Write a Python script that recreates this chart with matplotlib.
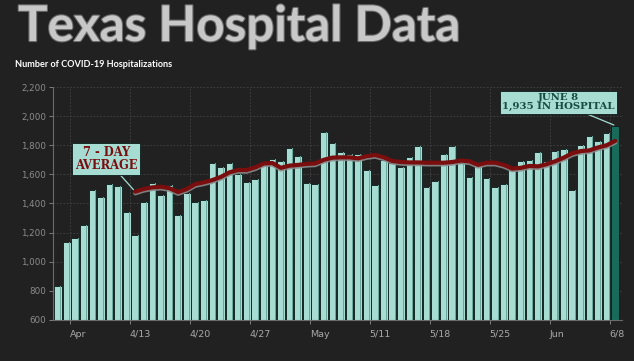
import numpy as np
import pandas as pd
import matplotlib
matplotlib.use("Agg")
import matplotlib.pyplot as plt
import matplotlib.patheffects as pe

# daily hospitalizations, 4/4 .. 6/8
START_DATE = "2020-04-04"
END_DATE = "2020-06-08"
HOSPITALIZED = [830, 1135, 1160, 1254, 1496, 1444, 1535, 1520, 1343, 1181,
                1412, 1540, 1460, 1529, 1324, 1472, 1412, 1424, 1681, 1652,
                1675, 1601, 1546, 1567, 1685, 1705, 1692, 1779, 1727, 1542,
                1533, 1890, 1817, 1753, 1741, 1737, 1630, 1525, 1698, 1675,
                1649, 1718, 1794, 1512, 1553, 1739, 1794, 1675, 1579, 1678,
                1572, 1513, 1533, 1632, 1691, 1698, 1755, 1691, 1760, 1774,
                1492, 1801, 1863, 1829, 1881, 1935]

# 7 day average, starts 4/13
AVG_START = "2020-04-13"
AVG_7DAY = [1481, 1500, 1511, 1515, 1505, 1478, 1499, 1533, 1545, 1561,
            1583, 1614, 1630, 1630, 1648, 1675, 1678, 1645, 1660, 1665,
            1672, 1675, 1700, 1715, 1717, 1717, 1710, 1725, 1733, 1717,
            1692, 1685, 1682, 1682, 1680, 1680, 1680, 1685, 1695, 1690,
            1665, 1680, 1680, 1665, 1640, 1645, 1658, 1655, 1670, 1690,
            1715, 1745, 1760, 1765, 1785, 1800, 1830]

TICK_DATES = ["2020-04-06", "2020-04-13", "2020-04-20", "2020-04-27", "2020-05-04",
              "2020-05-11", "2020-05-18", "2020-05-25", "2020-06-01", "2020-06-08"]
TICK_LABELS = ["Apr", "4/13", "4/20", "4/27", "May", "5/11", "5/18", "5/25", "Jun", "6/8"]
Y_TICKS = [600, 800, 1000, 1200, 1400, 1600, 1800, 2000, 2200]

BG = "#212121"
BAR = "#a6dcd2"
BAR_LAST = "#186a5a"
RED = "#7a0d0d"

dates = pd.date_range(START_DATE, END_DATE)
x = np.arange(len(dates))
day0 = dates[0]

def day_idx(d):
    return (pd.Timestamp(d) - day0).days

fig = plt.figure(figsize=(6.34, 3.61), dpi=100, facecolor=BG)
ax = fig.add_axes([0.0836, 0.1136, 0.8975, 0.6454], facecolor=BG)

colors = [BAR] * (len(x) - 1) + [BAR_LAST]
ax.bar(x, HOSPITALIZED, width=0.9, color=colors, edgecolor="#0c1c1a", linewidth=0.6, zorder=2)
# darker stripe on the right of each bar
ax.bar(x[:-1] + 0.33, np.array(HOSPITALIZED[:-1]) - 600, bottom=600, width=0.12,
       color="#6aa89e", linewidth=0, zorder=2.5)

# 7 day average line
ax_x = np.arange(len(AVG_7DAY)) + day_idx(AVG_START)
ax.plot(ax_x, AVG_7DAY, color=RED, linewidth=3.0, solid_capstyle="round", zorder=4,
        path_effects=[pe.SimpleLineShadow(offset=(0, -1.2), shadow_color="#8a8a8a", alpha=0.9, rho=1),
                      pe.Normal()])

ax.set_ylim(600, 2200)
ax.set_xlim(-0.6, 65.8)
ax.set_yticks(Y_TICKS)
ax.set_yticklabels(["{:,}".format(v) for v in Y_TICKS])
tick_pos = [day_idx(d) - 0.65 for d in TICK_DATES]
ax.set_xticks(tick_pos)
ax.set_xticklabels(TICK_LABELS, ha="left")

ax.tick_params(axis="y", colors="#8c8c8c", labelsize=6.3, length=3, width=0.6, pad=2)
ax.tick_params(axis="x", colors="#8c8c8c", labelsize=6.8, length=3, width=0.6, pad=4)
for lbl in ax.get_xticklabels():
    lbl.set_color("#a8a8a8")
for lbl in ax.get_yticklabels():
    lbl.set_color("#8c8c8c")

ax.grid(True, color="#444444", linestyle=(0, (2, 2)), linewidth=0.6, zorder=0)
ax.set_axisbelow(True)
for s in ["top", "right"]:
    ax.spines[s].set_visible(False)
ax.spines["left"].set_color("#6a6a6a")
ax.spines["bottom"].set_color("#6a6a6a")
ax.spines["left"].set_linewidth(0.8)
ax.spines["bottom"].set_linewidth(0.8)

# title + subtitle
fig.text(18 / 634, 1 - 41 / 361, "Texas Hospital Data", fontsize=35.5, family="Lato",
         weight="bold", color="#c8c8c8", ha="left", va="baseline",
         path_effects=[pe.withStroke(linewidth=1.6, foreground="#6a6a6a")])
fig.text(15 / 634, 1 - 67 / 361, "Number of COVID-19 Hospitalizations", fontsize=6.6,
         family="Lato", weight="bold", color="white", ha="left", va="baseline")

# callouts
box = dict(boxstyle="square,pad=0.25", facecolor=BAR, edgecolor="#0c1c1a", linewidth=0.6)
ax.annotate("7 - DAY\nAVERAGE", xy=(day_idx(AVG_START), AVG_7DAY[0]),
            xytext=(5.6, 1705), textcoords="data", ha="center", va="center",
            fontsize=8.3, family="DejaVu Serif", weight="bold", color=RED,
            linespacing=1.0, bbox=box, zorder=6,
            arrowprops=dict(arrowstyle="-", color=BAR, linewidth=0.9, shrinkA=0, shrinkB=2))
ax.annotate("JUNE 8\n1,935 IN HOSPITAL", xy=(x[-1], HOSPITALIZED[-1]),
            xytext=(58.4, 2096), textcoords="data", ha="center", va="center",
            fontsize=7.3, family="DejaVu Serif", weight="bold", color="#174c43",
            linespacing=1.0, bbox=box, zorder=6, annotation_clip=False,
            arrowprops=dict(arrowstyle="-", color=BAR, linewidth=0.9, shrinkA=0, shrinkB=1))

fig.savefig("out.png", dpi=100, facecolor=BG)
